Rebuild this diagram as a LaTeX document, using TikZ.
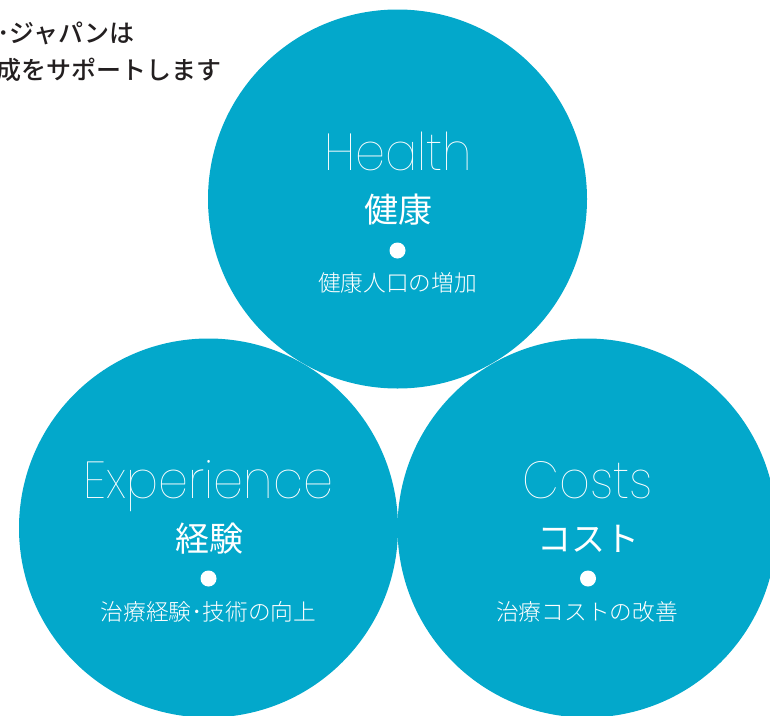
\documentclass[tikz,border=0pt]{standalone}
\usepackage{fontspec}
\newfontfamily\cjk{Noto Sans CJK JP}
\newfontfamily\cjklight{Noto Sans CJK JP Light}
\newfontfamily\cjkmedium{Noto Sans CJK JP Medium}
\newfontfamily\thinfont{Poppins Thin}[FakeStretch=0.92]
\definecolor{circblue}{HTML}{03A8CB}
\definecolor{headgray}{HTML}{231F20}
\begin{document}
\begin{tikzpicture}[x=1pt,y=-1pt]
\clip (0,0) rectangle (770,715);
\tikzset{
 bub/.style={circle, fill=circblue, minimum size=379pt, inner sep=0pt},
 en/.style={font=\thinfont\fontsize{52}{52}\selectfont, text=white, anchor=base, inner sep=0pt},
 jp/.style={font=\cjk\fontsize{34}{34}\selectfont, text=white, inner sep=0pt},
 sub/.style={font=\cjklight\fontsize{22.7}{22.7}\selectfont, text=white, inner sep=0pt},
 whitedot/.style={circle, fill=white, minimum size=16pt, inner sep=0pt},
 head/.style={font=\cjkmedium\fontsize{25}{25}\selectfont, text=headgray, anchor=east, inner sep=0pt}
}
\node[bub] (health) at (397.5,199) {};
\node[bub] (exp) at (208.5,528) {};
\node[bub] (cost) at (587,528) {};

\node[en] (healthEn) at (398,170) {Health};
\node[jp] (healthJp) at (398,210) {健康};
\node[whitedot] (healthDot) at (397.5,250.5) {};
\node[sub] (healthSub) at (397.5,283) {健康人口の増加};

\node[en] (expEn) at (208.5,498) {Experience};
\node[jp] (expJp) at (209,539) {経験};
\node[whitedot] (expDot) at (208.5,578.5) {};
\node[sub] (expSub) at (208.5,612) {治療経験･技術の向上};

\node[en] (costEn) at (588,498) {Costs};
\node[jp] (costJp) at (588,539) {コスト};
\node[whitedot] (costDot) at (588,578.5) {};
\node[sub] (costSub) at (587,612) {治療コストの改善};

\node[head] (line1) at (135,33) {･ジャパンは};
\node[head] (line2) at (222,70) {成をサポートします};
\end{tikzpicture}
\end{document}
